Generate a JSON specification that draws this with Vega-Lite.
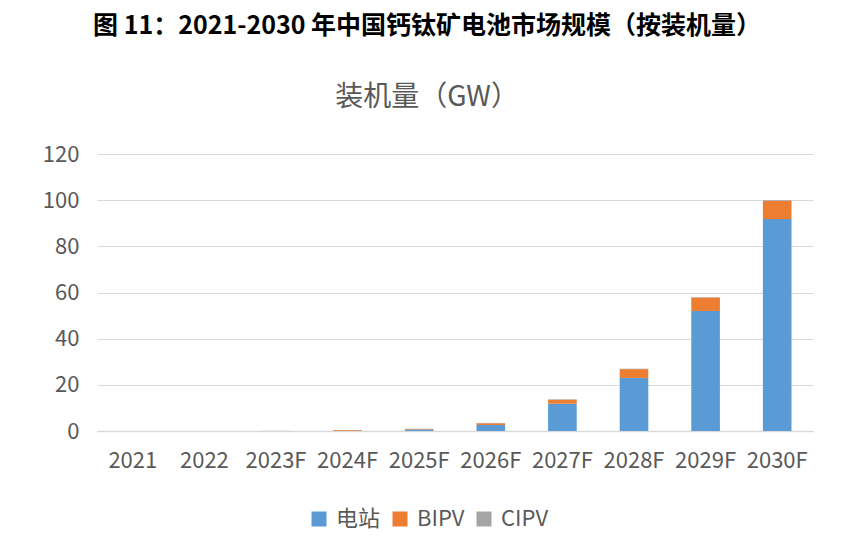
{
  "$schema": "https://vega.github.io/schema/vega-lite/v6.json",
  "width": 716,
  "height": 277,
  "autosize": "none",
  "padding": {"left": 97, "top": 154, "right": 44, "bottom": 119},
  "background": "white",
  "title": {
    "text": "图 11：2021-2030 年中国钙钛矿电池市场规模（按装机量）",
    "subtitle": "装机量（GW）",
    "anchor": "middle",
    "frame": "group",
    "dx": -28,
    "font": "Noto Sans CJK SC",
    "fontSize": 25,
    "fontWeight": "bold",
    "color": "#000000",
    "subtitleFont": "Noto Sans CJK SC",
    "subtitleFontSize": 28,
    "subtitleColor": "#595959",
    "subtitlePadding": 45,
    "offset": 31
  },
  "data": {
    "values": [
      {"year": "2021", "type": "电站", "k": 1, "value": 0},
      {"year": "2021", "type": "BIPV", "k": 2, "value": 0},
      {"year": "2021", "type": "CIPV", "k": 3, "value": 0},
      {"year": "2022", "type": "电站", "k": 1, "value": 0},
      {"year": "2022", "type": "BIPV", "k": 2, "value": 0},
      {"year": "2022", "type": "CIPV", "k": 3, "value": 0},
      {"year": "2023F", "type": "电站", "k": 1, "value": 0.02},
      {"year": "2023F", "type": "BIPV", "k": 2, "value": 0.03},
      {"year": "2023F", "type": "CIPV", "k": 3, "value": 0},
      {"year": "2024F", "type": "电站", "k": 1, "value": 0.1},
      {"year": "2024F", "type": "BIPV", "k": 2, "value": 0.3},
      {"year": "2024F", "type": "CIPV", "k": 3, "value": 0.02},
      {"year": "2025F", "type": "电站", "k": 1, "value": 0.7},
      {"year": "2025F", "type": "BIPV", "k": 2, "value": 0.2},
      {"year": "2025F", "type": "CIPV", "k": 3, "value": 0.1},
      {"year": "2026F", "type": "电站", "k": 1, "value": 2.6},
      {"year": "2026F", "type": "BIPV", "k": 2, "value": 0.8},
      {"year": "2026F", "type": "CIPV", "k": 3, "value": 0.1},
      {"year": "2027F", "type": "电站", "k": 1, "value": 11.8},
      {"year": "2027F", "type": "BIPV", "k": 2, "value": 1.7},
      {"year": "2027F", "type": "CIPV", "k": 3, "value": 0.3},
      {"year": "2028F", "type": "电站", "k": 1, "value": 23},
      {"year": "2028F", "type": "BIPV", "k": 2, "value": 3.8},
      {"year": "2028F", "type": "CIPV", "k": 3, "value": 0.2},
      {"year": "2029F", "type": "电站", "k": 1, "value": 52},
      {"year": "2029F", "type": "BIPV", "k": 2, "value": 5.8},
      {"year": "2029F", "type": "CIPV", "k": 3, "value": 0.2},
      {"year": "2030F", "type": "电站", "k": 1, "value": 91.8},
      {"year": "2030F", "type": "BIPV", "k": 2, "value": 7.9},
      {"year": "2030F", "type": "CIPV", "k": 3, "value": 0.3}
    ]
  },
  "mark": {"type": "bar"},
  "encoding": {
    "x": {
      "field": "year",
      "type": "nominal",
      "sort": null,
      "scale": {"paddingInner": 0.6, "paddingOuter": 0.3},
      "axis": {
        "title": null,
        "labelAngle": 0,
        "labelFont": "Noto Sans CJK SC",
        "labelFontSize": 22,
        "labelColor": "#595959",
        "labelPadding": 19,
        "ticks": false,
        "domainColor": "#d9d9d9",
        "domainWidth": 1.5,
        "grid": false
      }
    },
    "y": {
      "field": "value",
      "type": "quantitative",
      "stack": "zero",
      "scale": {"domain": [0, 120], "nice": false},
      "axis": {
        "title": null,
        "values": [0, 20, 40, 60, 80, 100, 120],
        "labelFont": "Noto Sans CJK SC",
        "labelFontSize": 22,
        "labelColor": "#595959",
        "labelPadding": 18,
        "ticks": false,
        "domain": false,
        "gridColor": "#d9d9d9",
        "gridWidth": 1
      }
    },
    "color": {
      "field": "type",
      "type": "nominal",
      "scale": {"domain": ["电站", "BIPV", "CIPV"], "range": ["#5B9BD5", "#ED7D31", "#A5A5A5"]},
      "legend": {
        "title": null,
        "orient": "none",
        "direction": "horizontal",
        "legendX": 211,
        "legendY": 354,
        "symbolType": "square",
        "symbolSize": 225,
        "symbolStrokeWidth": 0,
        "labelFont": "Noto Sans CJK SC",
        "labelFontSize": 22,
        "labelColor": "#595959",
        "columnPadding": 8,
        "labelOffset": 6
      }
    },
    "order": {"field": "k", "type": "quantitative"}
  },
  "config": {"view": {"stroke": null}}
}
